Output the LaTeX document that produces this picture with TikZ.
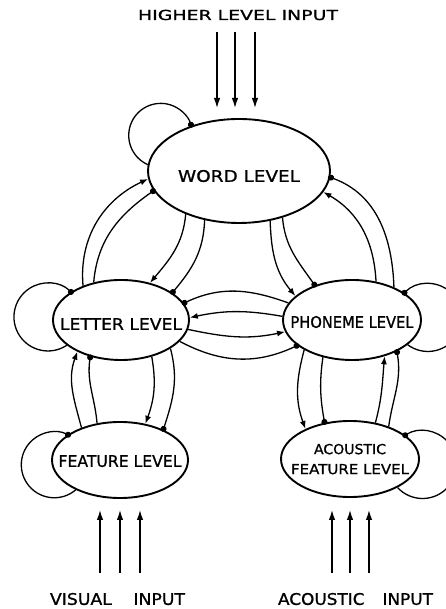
\documentclass[tikz,border=0pt]{standalone}
\usepackage{fontspec}
\usepackage{graphicx}
\setmainfont{DejaVu Sans}[FakeBold=1.0]
\usetikzlibrary{shapes.geometric,arrows.meta}
\newcommand{\lbl}[2]{\makebox[0pt]{\resizebox{#1}{\height}{#2}}}
\tikzset{
  lvl/.style={ellipse, draw, line width=1.9pt, inner sep=0pt, text depth=0pt,
    font=\fontsize{16pt}{18pt}\selectfont},
  exc/.style={line width=1.3pt, -{Latex[length=8pt,width=6pt]}},
  inh/.style={line width=1.3pt, -{Circle[length=6pt]}, shorten >=-2.2pt},
  inarrow/.style={line width=1.3pt, -{Latex[length=10pt,width=6.5pt]}},
  caption/.style={inner sep=0pt, text depth=0pt}
}
\begin{document}
\begin{tikzpicture}[x=1pt,y=1pt]
\useasboundingbox (0,0) rectangle (446,609);

% level nodes
\node[lvl, minimum width=182pt, minimum height=104pt, text height=21.7pt] (word) at (239,438) {\lbl{122pt}{WORD LEVEL}};
\node[lvl, minimum width=136pt, minimum height=80pt, text height=19.7pt] (letter) at (121,289) {\lbl{122pt}{LETTER LEVEL}};
\node[lvl, minimum width=138pt, minimum height=80pt, text height=15.7pt] (phoneme) at (352,289) {\lbl{123pt}{PHONEME LEVEL}};
\node[lvl, minimum width=136pt, minimum height=76pt, text height=13.7pt] (feature) at (120,149) {\lbl{123pt}{FEATURE LEVEL}};
\node[lvl, minimum width=138pt, minimum height=76pt, align=center,
      font=\fontsize{13.8pt}{20pt}\selectfont] (acoustic) at (350,150)
      {\lbl{72pt}{ACOUSTIC}\\\lbl{118pt}{FEATURE LEVEL}};

% captions
\node[caption, text height=10pt, font=\fontsize{13.8pt}{16pt}\selectfont] (hli) at (238,594) {\resizebox{200pt}{\height}{HIGHER LEVEL INPUT}};
\node[caption, text height=11.7pt, font=\fontsize{16pt}{18pt}\selectfont] (vis) at (117.5,10) {\resizebox{135pt}{\height}{VISUAL\hspace{20pt}INPUT}};
\node[caption, text height=11.7pt, font=\fontsize{16pt}{18pt}\selectfont] (aci) at (355.5,10) {\resizebox{155pt}{\height}{ACOUSTIC\hspace{17pt}INPUT}};

% input arrows
\coordinate (h1a) at (217,577); \coordinate (h1b) at (217,501);
\coordinate (h2a) at (235,577); \coordinate (h2b) at (235,501);
\coordinate (h3a) at (255,577); \coordinate (h3b) at (255,501);
\coordinate (v1a) at (100,36); \coordinate (v1b) at (100,99);
\coordinate (v2a) at (120,36); \coordinate (v2b) at (120,99);
\coordinate (v3a) at (140,36); \coordinate (v3b) at (140,99);
\coordinate (a1a) at (332,36); \coordinate (a1b) at (332,99);
\coordinate (a2a) at (350,36); \coordinate (a2b) at (350,99);
\coordinate (a3a) at (369,36); \coordinate (a3b) at (369,99);
\foreach \p in {h1,h2,h3,v1,v2,v3,a1,a2,a3}
  \draw[inarrow] (\p a) -- (\p b);

% within-level loops (inhibitory)
\draw[inh] (word.176) arc[start angle=246, end angle=18, radius=32];
\draw[inh] (letter.205) arc[start angle=303.6, end angle=46.1, radius=34];
\draw[inh] (phoneme.336) arc[start angle=233.5, end angle=494.9, radius=34];
\draw[inh] (feature.214) arc[start angle=310.5, end angle=64, radius=33];
\draw[inh] (acoustic.329) arc[start angle=222.7, end angle=482, radius=34];

% word - letter
\draw[exc] (letter.138) to[out=95,in=205] (word.185);
\draw[inh] (letter.126) to[out=85,in=215] (word.193);
\draw[exc] (word.219) to[out=265,in=50] (letter.52);
\draw[inh] (word.235) to[out=268,in=50] (letter.28);

% word - phoneme
\draw[exc] (word.302) to[out=272,in=130] (phoneme.157);
\draw[inh] (word.313) to[out=275,in=125] (phoneme.137);
\draw[exc] (phoneme.58) to[out=93,in=-30] (word.346);
\draw[inh] (phoneme.38) to[out=92,in=-20] (word.356);

% letter - phoneme
\draw[inh] (phoneme.165) to[out=160,in=25] (letter.15);
\draw[exc] (phoneme.177) to[out=170,in=12] (letter.2);
\draw[exc] (letter.352) to[out=-12,in=192] (phoneme.190);
\draw[inh] (letter.340) to[out=-28,in=205] (phoneme.205);

% letter - feature
\draw[exc] (feature.140) to[out=105,in=250] (letter.216);
\draw[inh] (feature.122) to[out=95,in=262] (letter.230);
\draw[exc] (letter.310) to[out=-80,in=70] (feature.55);
\draw[inh] (letter.330) to[out=-75,in=72] (feature.35);

% phoneme - acoustic feature
\draw[exc] (phoneme.212) to[out=255,in=110] (acoustic.146);
\draw[inh] (phoneme.232) to[out=262,in=100] (acoustic.125);
\draw[exc] (acoustic.55) to[out=75,in=265] (phoneme.312);
\draw[inh] (acoustic.40) to[out=82,in=280] (phoneme.325);
\end{tikzpicture}
\end{document}
